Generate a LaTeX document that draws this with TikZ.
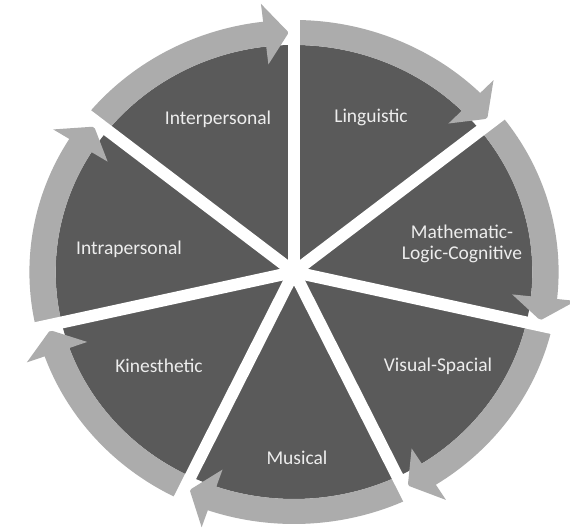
\documentclass[tikz,border=0pt]{standalone}
\usepackage{fontspec}
\setmainfont{Carlito}
\begin{document}
\begin{tikzpicture}[x=1pt,y=1pt]
\definecolor{sectorc}{RGB}{90,90,90}
\definecolor{ringc}{RGB}{172,172,172}
\tikzset{
  lbl/.style={text=white!93!black, font=\fontsize{19.5}{20.5}\selectfont, align=center, inner sep=0pt},
  sepline/.style={white, line width=12pt},
  ringarrow/.style={fill=ringc}
}
\useasboundingbox (0,0) rectangle (570,532);
\fill[white] (0,0) rectangle (570,532);
\begin{scope}[shift={(294,260)}, xscale=1.05]
  \fill[sectorc] (0,0) circle (227);
  \foreach \i in {0,...,6} {
    \pgfmathsetmacro\a{90-\i*360/7}
    \pgfmathsetmacro\b{\a-360/7}
    \pgfmathsetmacro\hb{\b+6.7}
    \pgfmathsetmacro\tp{\b+1.2}
    \fill[ringarrow] (\a:252) arc[start angle=\a, end angle=\hb, radius=252]
      -- (\hb:270) -- (\tp:239.5) -- (\hb:209) -- (\hb:227)
      arc[start angle=\hb, end angle=\a, radius=227] -- cycle;
  }
  \coordinate (c) at (0,0);
  \foreach \i in {0,...,6} {
    \pgfmathsetmacro\a{90-\i*360/7}
    \coordinate (e\i) at (\a:275);
    \draw[sepline] (c) -- (e\i);
  }
\end{scope}
\node[lbl] (interp) at (218,413) {Interpersonal};
\node[lbl] (ling) at (371,415) {Linguistic};
\node[lbl] (math) at (462,288) {Mathematic-\\Logic-Cognitive};
\node[lbl] (vis) at (438,166) {Visual-Spacial};
\node[lbl] (mus) at (297,74) {Musical};
\node[lbl] (kin) at (159,166) {Kinesthetic};
\node[lbl] (intra) at (129,283) {Intrapersonal};
\end{tikzpicture}
\end{document}
